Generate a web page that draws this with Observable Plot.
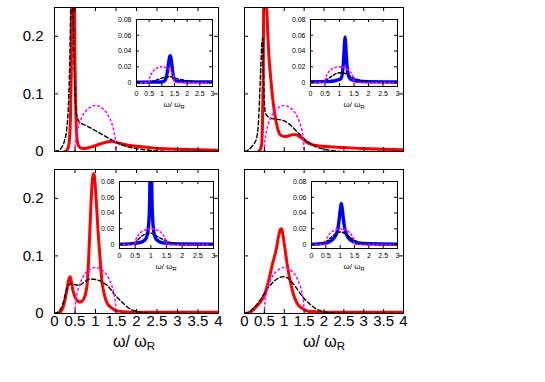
<!DOCTYPE html>
<html>
<head>
<meta charset="utf-8">
<script src="https://cdn.jsdelivr.net/npm/d3@7"></script>
<script src="https://cdn.jsdelivr.net/npm/@observablehq/plot@0.6"></script>
<style>
  html, body { margin: 0; padding: 0; background: white; }
  #fig { position: relative; width: 545px; height: 382px; overflow: hidden; font-family: "Liberation Sans", Arial, sans-serif; }
  .xl { position: absolute; white-space: nowrap; color: black; transform: translate(-50%, -50%); line-height: 1; }
  .xl sub { font-size: 0.72em; vertical-align: -0.3em; line-height: 0; }
</style>
</head>
<body>
<div id="fig"></div>
<script>
// ---------- tick labels ----------
const mainXTicks = [0, 0.5, 1, 1.5, 2, 2.5, 3, 3.5, 4];
const mainYTicks = [0, 0.1, 0.2];
const insetXTicks = [0, 0.5, 1, 1.5, 2, 2.5, 3];
const insetYTicks = [0, 0.02, 0.04, 0.06, 0.08];
const axisLabel = ["ω/ ω", "R"];

// ---------- main panels: [ω/ωR, value] ----------
const p1Red = [[0.25,0],[0.3,0.002],[0.34,0.008],[0.37,0.025],[0.39,0.06],[0.41,0.14],[0.43,0.3],[0.48,0.3],[0.5,0.15],[0.52,0.07],[0.54,0.03],[0.57,0.013],[0.62,0.007],[0.7,0.005],[0.8,0.006],[0.9,0.008],[1.0,0.01],[1.1,0.013],[1.2,0.015],[1.3,0.017],[1.4,0.018],[1.5,0.016],[1.6,0.014],[1.8,0.011],[2.0,0.009],[2.3,0.007],[2.6,0.005],[3.0,0.004],[3.5,0.003],[4.0,0.002]];
const p1Black = [[0,0],[0.1,0.002],[0.2,0.01],[0.25,0.02],[0.3,0.04],[0.34,0.08],[0.37,0.15],[0.4,0.26],[0.43,0.3],[0.46,0.22],[0.49,0.12],[0.52,0.075],[0.56,0.058],[0.6,0.052],[0.8,0.044],[1.0,0.036],[1.2,0.028],[1.4,0.02],[1.6,0.013],[1.8,0.008],[2.0,0.005],[2.2,0.003],[2.5,0.001],[3.0,0],[4,0]];

const p2Red = [[0.35,0],[0.4,0.004],[0.43,0.012],[0.45,0.04],[0.47,0.13],[0.49,0.3],[0.54,0.3],[0.56,0.25],[0.58,0.215],[0.61,0.17],[0.65,0.135],[0.7,0.098],[0.75,0.07],[0.8,0.05],[0.86,0.034],[0.92,0.028],[1.0,0.026],[1.1,0.027],[1.2,0.029],[1.3,0.029],[1.4,0.025],[1.5,0.02],[1.6,0.015],[1.7,0.012],[1.85,0.01],[2.0,0.009],[2.5,0.007],[3.0,0.005],[3.5,0.004],[4.0,0.003]];
const p2Black = [[0,0],[0.1,0.003],[0.2,0.01],[0.3,0.022],[0.35,0.05],[0.4,0.13],[0.43,0.18],[0.46,0.197],[0.48,0.14],[0.5,0.085],[0.53,0.066],[0.6,0.06],[0.7,0.057],[0.8,0.056],[0.9,0.055],[1.0,0.053],[1.1,0.049],[1.2,0.043],[1.3,0.036],[1.4,0.029],[1.5,0.022],[1.6,0.016],[1.7,0.012],[1.8,0.008],[2.0,0.004],[2.3,0.001],[2.6,0],[4,0]];

const p3Red = [[0.05,0],[0.1,0.001],[0.15,0.003],[0.2,0.009],[0.25,0.022],[0.3,0.04],[0.34,0.057],[0.38,0.064],[0.41,0.056],[0.45,0.04],[0.5,0.029],[0.55,0.023],[0.61,0.02],[0.67,0.021],[0.72,0.026],[0.76,0.035],[0.8,0.054],[0.83,0.09],[0.86,0.14],[0.89,0.19],[0.92,0.228],[0.95,0.243],[0.97,0.24],[1.0,0.216],[1.04,0.17],[1.07,0.135],[1.1,0.106],[1.13,0.078],[1.16,0.054],[1.2,0.038],[1.24,0.026],[1.3,0.016],[1.37,0.011],[1.49,0.005],[1.7,0.003],[2.0,0.002],[3.0,0.002],[4.0,0.002]];
const p3Black = [[0,0],[0.1,0.003],[0.15,0.008],[0.2,0.016],[0.27,0.035],[0.3,0.042],[0.35,0.049],[0.4,0.052],[0.5,0.05],[0.6,0.049],[0.7,0.053],[0.8,0.058],[0.9,0.06],[1.0,0.059],[1.1,0.057],[1.2,0.053],[1.3,0.048],[1.4,0.039],[1.5,0.03],[1.6,0.023],[1.7,0.016],[1.8,0.01],[1.9,0.006],[2.0,0.004],[2.2,0.001],[2.5,0],[4,0]];

const p4Red = [[0,0],[0.1,0.001],[0.2,0.005],[0.3,0.012],[0.4,0.02],[0.5,0.032],[0.6,0.055],[0.7,0.085],[0.8,0.112],[0.86,0.135],[0.91,0.147],[0.94,0.146],[0.98,0.13],[1.03,0.107],[1.07,0.087],[1.12,0.067],[1.16,0.053],[1.22,0.036],[1.28,0.024],[1.35,0.015],[1.45,0.009],[1.6,0.004],[1.8,0.003],[2.0,0.002],[4.0,0.002]];
const p4Black = [[0,0],[0.1,0.002],[0.2,0.008],[0.3,0.015],[0.4,0.024],[0.5,0.035],[0.6,0.045],[0.7,0.053],[0.8,0.059],[0.9,0.063],[1.0,0.064],[1.1,0.061],[1.2,0.054],[1.3,0.045],[1.4,0.035],[1.5,0.026],[1.6,0.019],[1.7,0.013],[1.8,0.008],[1.9,0.005],[2.0,0.003],[2.2,0.001],[2.5,0],[4,0]];

// semicircle (magenta dotted), same in all four main panels
const magMain = [[0.5,0],[0.51,0.016],[0.53,0.027],[0.56,0.038],[0.6,0.048],[0.65,0.057],[0.7,0.064],[0.8,0.073],[0.9,0.078],[1.0,0.08],[1.1,0.078],[1.2,0.073],[1.3,0.064],[1.35,0.057],[1.4,0.048],[1.44,0.038],[1.47,0.027],[1.49,0.016],[1.5,0]];

// ---------- insets ----------
const i1Blue = [[0,0.0005],[1.0,0.0008],[1.1,0.002],[1.17,0.006],[1.22,0.014],[1.27,0.025],[1.31,0.033],[1.34,0.034],[1.38,0.027],[1.42,0.016],[1.46,0.007],[1.52,0.003],[1.6,0.0015],[2.0,0.001],[3.0,0.0008]];
const i1Black = [[0,0],[0.4,0],[0.5,0.0005],[0.6,0.0012],[0.7,0.0022],[0.8,0.0033],[0.9,0.0045],[1.0,0.0057],[1.1,0.0067],[1.2,0.0073],[1.3,0.0074],[1.4,0.007],[1.5,0.006],[1.6,0.005],[1.8,0.0035],[2.0,0.0024],[2.2,0.0015],[2.5,0.0007],[3.0,0.0002]];

const i2Blue = [[0,0.001],[0.5,0.0012],[0.8,0.002],[0.95,0.0035],[1.05,0.005],[1.1,0.012],[1.14,0.028],[1.17,0.048],[1.19,0.058],[1.21,0.05],[1.24,0.03],[1.28,0.014],[1.33,0.007],[1.4,0.004],[1.6,0.002],[2.0,0.001],[3.0,0.0008]];
const i2Black = [[0,0],[0.3,0],[0.4,0.0008],[0.5,0.0025],[0.6,0.0048],[0.7,0.0073],[0.8,0.0097],[0.9,0.0115],[1.0,0.0124],[1.1,0.0125],[1.2,0.0115],[1.3,0.0097],[1.4,0.0076],[1.5,0.0057],[1.6,0.0042],[1.8,0.0022],[2.0,0.0011],[2.3,0.0004],[2.6,0],[3,0]];

const i3Blue = [[0,0.0005],[0.5,0.0015],[0.7,0.003],[0.8,0.0055],[0.86,0.009],[0.9,0.015],[0.93,0.025],[0.96,0.05],[0.98,0.09],[1.02,0.09],[1.04,0.05],[1.07,0.025],[1.1,0.015],[1.14,0.009],[1.2,0.0055],[1.3,0.003],[1.5,0.0015],[2.0,0.0008],[3.0,0.0005]];
const i3Black = [[0,0],[0.3,0],[0.4,0.001],[0.5,0.003],[0.6,0.0065],[0.7,0.0105],[0.8,0.013],[0.9,0.0143],[1.0,0.0145],[1.1,0.013],[1.2,0.0105],[1.3,0.0082],[1.4,0.0062],[1.5,0.0045],[1.6,0.003],[1.8,0.0015],[2.0,0.0006],[2.3,0],[3,0]];

const i4Blue = [[0,0.0005],[0.4,0.0015],[0.6,0.003],[0.75,0.007],[0.85,0.012],[0.92,0.02],[0.97,0.033],[1.01,0.046],[1.04,0.052],[1.07,0.046],[1.11,0.033],[1.16,0.02],[1.23,0.012],[1.32,0.007],[1.45,0.004],[1.6,0.002],[2.0,0.001],[3.0,0.0005]];
const i4Black = [[0,0],[0.3,0],[0.4,0.001],[0.5,0.003],[0.6,0.006],[0.7,0.0095],[0.8,0.0128],[0.9,0.015],[1.0,0.016],[1.1,0.0153],[1.2,0.0133],[1.3,0.0105],[1.4,0.0078],[1.5,0.0055],[1.6,0.0037],[1.8,0.0016],[2.0,0.0006],[2.3,0],[3,0]];

// semicircle in insets
const magInset = [[0,0],[0.5,0],[0.51,0.004],[0.53,0.0068],[0.56,0.0095],[0.6,0.012],[0.65,0.0143],[0.7,0.016],[0.8,0.0183],[0.9,0.0196],[1.0,0.02],[1.1,0.0196],[1.2,0.0183],[1.3,0.016],[1.35,0.0143],[1.4,0.012],[1.44,0.0095],[1.47,0.0068],[1.49,0.004],[1.5,0],[3,0]];

// ---------- layout ----------
const W = 545, H = 382;
const FONT = '"Liberation Sans", Arial, Helvetica, sans-serif';
const fig = document.getElementById("fig");

function makePanel(cfg) {
  const [l, t, r, b] = cfg.frame;
  const fw = r - l, fh = b - t;
  const tk = cfg.tick;
  const isInset = cfg.inset;
  const fx = d => d[0], fy = d => d[1];
  const marks = [];
  if (isInset) marks.push(Plot.frame({fill: "white", stroke: null}));
  marks.push(Plot.line(cfg.solid, {x: fx, y: fy, stroke: cfg.solidColor, strokeWidth: cfg.solidWidth, curve: "monotone-x", clip: true, strokeLinejoin: "round"}));
  marks.push(Plot.line(cfg.black, {x: fx, y: fy, stroke: "black", strokeWidth: 1.4, strokeDasharray: isInset ? "3,2" : "4,2.5", curve: "monotone-x", clip: true}));
  marks.push(Plot.line(cfg.mag, {x: fx, y: fy, stroke: "#ff00ff", strokeWidth: 1.6, strokeDasharray: isInset ? "1.4,2.8" : "1.5,3.2", curve: "monotone-x", clip: true}));
  // inward ticks on all four sides
  marks.push(Plot.tickY(cfg.yTicks, {y: d => d, insetRight: fw - tk, stroke: "black"}));
  marks.push(Plot.tickY(cfg.yTicks, {y: d => d, insetLeft: fw - tk, stroke: "black"}));
  marks.push(Plot.tickX(cfg.xTicks, {x: d => d, insetTop: fh - tk, stroke: "black"}));
  marks.push(Plot.tickX(cfg.xTicks, {x: d => d, insetBottom: fh - tk, stroke: "black"}));
  marks.push(Plot.frame({stroke: "black", strokeWidth: 1}));
  if (cfg.showX) marks.push(Plot.axisX({ticks: cfg.xTicks, tickSize: 0, tickPadding: cfg.xPad, fontSize: cfg.fs, tickFormat: d => String(d), label: null}));
  if (cfg.showY) marks.push(Plot.axisY({ticks: cfg.yTicks, tickSize: 0, tickPadding: cfg.yPad, fontSize: cfg.fs, tickFormat: d => String(d), label: null}));
  const svg = Plot.plot({
    width: W, height: H,
    marginLeft: l, marginTop: t, marginRight: W - r, marginBottom: H - b,
    style: {position: "absolute", left: "0px", top: "0px", background: "transparent", fontFamily: FONT, color: "black", overflow: "visible"},
    x: {domain: cfg.xDomain, axis: cfg.showX ? undefined : null},
    y: {domain: cfg.yDomain, axis: cfg.showY ? undefined : null},
    marks
  });
  fig.appendChild(svg);
  if (cfg.label) {
    const div = document.createElement("div");
    div.className = "xl";
    div.style.left = cfg.label[0] + "px";
    div.style.top = cfg.label[1] + "px";
    div.style.fontSize = cfg.label[2] + "px";
    div.innerHTML = axisLabel[0] + "<sub>" + axisLabel[1] + "</sub>";
    fig.appendChild(div);
  }
}

const mainCommon = {xDomain: [0, 4], yDomain: [0, 0.25], xTicks: mainXTicks, yTicks: mainYTicks, tick: 4, fs: 15, xPad: 2, yPad: 11, solidColor: "#ff0000", solidWidth: 3, mag: magMain, inset: false};
const insetCommon = {xDomain: [0, 3], yDomain: [-0.005, 0.08], xTicks: insetXTicks, yTicks: insetYTicks, tick: 3, fs: 7, xPad: 5, yPad: 5, solidColor: "#0000ff", solidWidth: 3.4, mag: magInset, inset: true, showX: true, showY: true};

makePanel({...mainCommon, frame: [54, 7, 218, 151], solid: p1Red, black: p1Black, showX: false, showY: true});
makePanel({...mainCommon, frame: [244, 7, 403, 151], solid: p2Red, black: p2Black, showX: false, showY: false});
makePanel({...mainCommon, frame: [54, 169, 218, 313], solid: p3Red, black: p3Black, showX: true, showY: true, label: [134, 342, 16]});
makePanel({...mainCommon, frame: [244, 169, 403, 313], solid: p4Red, black: p4Black, showX: true, showY: false, label: [324, 342, 16]});

makePanel({...insetCommon, frame: [136, 19, 212, 86], solid: i1Blue, black: i1Black, label: [174, 105, 8]});
makePanel({...insetCommon, frame: [310, 19, 397, 86], solid: i2Blue, black: i2Black, label: [354, 105, 8]});
makePanel({...insetCommon, frame: [119, 181, 213, 248], solid: i3Blue, black: i3Black, label: [166, 267, 8]});
makePanel({...insetCommon, frame: [311, 181, 397, 248], solid: i4Blue, black: i4Black, label: [354, 267, 8]});
</script>
</body>
</html>
